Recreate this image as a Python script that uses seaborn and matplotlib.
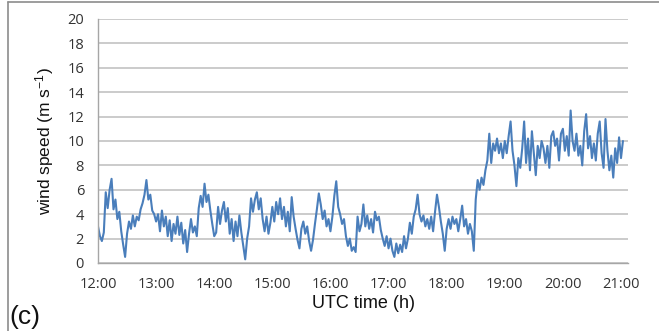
import numpy as np
import pandas as pd
import matplotlib
matplotlib.use("Agg")
import matplotlib.pyplot as plt
from matplotlib.lines import Line2D
import seaborn as sns

# ---- data: wind speed (m/s) read every 2 minutes, one list per UTC hour ----
speed_12h = [3.0, 2.2, 1.8, 2.5, 5.8, 4.5, 6.0, 6.9, 4.4, 5.2, 3.6, 4.2, 2.6, 1.5, 0.5,
             2.4, 3.4, 2.8, 3.9, 3.0, 3.8, 3.5, 4.4, 4.9, 5.6, 6.8, 5.2, 5.6, 4.3, 4.0]
speed_13h = [3.4, 4.0, 2.6, 4.3, 3.0, 3.8, 2.2, 3.5, 1.8, 3.2, 2.4, 3.8, 2.3, 3.3, 1.6,
             2.7, 0.9, 2.4, 3.6, 2.5, 3.0, 2.2, 4.5, 5.5, 4.6, 6.5, 5.0, 5.6, 4.3, 3.2]
speed_14h = [2.2, 2.5, 4.6, 3.2, 4.3, 5.0, 3.4, 4.5, 2.4, 3.6, 1.8, 3.4, 2.2, 3.9, 2.5,
             1.4, 0.3, 2.0, 3.0, 5.3, 4.2, 5.2, 5.8, 4.4, 5.3, 3.6, 2.6, 3.8, 2.4, 3.3]
speed_15h = [4.6, 3.4, 5.0, 4.0, 5.3, 3.6, 4.6, 3.0, 4.2, 2.6, 5.4, 3.8, 2.8, 1.9, 1.2,
             2.8, 3.4, 2.4, 3.0, 1.8, 1.0, 1.9, 3.2, 4.4, 5.7, 4.8, 3.6, 4.3, 3.0, 3.6]
speed_16h = [2.6, 3.8, 5.5, 6.7, 4.6, 4.0, 3.2, 3.6, 2.2, 1.4, 2.0, 1.0, 1.3, 0.9, 3.8,
             2.6, 3.2, 4.8, 3.0, 3.9, 2.8, 3.6, 2.5, 4.2, 3.5, 3.8, 2.7, 2.0, 1.4, 2.2]
speed_17h = [1.2, 2.0, 1.0, 0.5, 1.6, 0.8, 1.5, 0.9, 2.2, 1.2, 2.0, 3.3, 2.4, 3.8, 4.4,
             5.6, 4.0, 3.4, 3.9, 3.0, 3.6, 2.8, 3.8, 2.6, 4.2, 5.6, 4.6, 3.4, 2.4, 1.0]
speed_18h = [2.8, 3.6, 2.8, 3.8, 3.2, 3.6, 2.6, 3.6, 4.7, 3.0, 3.6, 2.4, 3.2, 2.6, 1.0,
             5.2, 6.8, 6.0, 7.0, 6.4, 7.6, 8.4, 10.6, 8.2, 9.8, 9.2, 10.2, 9.0, 9.8, 8.6]
speed_19h = [10.0, 9.0, 10.4, 11.6, 9.2, 8.0, 6.3, 8.6, 7.8, 9.4, 11.6, 8.2, 10.2, 7.6, 10.8,
             9.0, 7.2, 9.6, 8.6, 10.0, 9.4, 8.2, 9.6, 7.8, 10.4, 10.8, 9.6, 10.2, 8.4, 10.6]
speed_20h = [11.0, 9.2, 10.4, 8.8, 12.5, 10.0, 9.2, 10.6, 8.8, 9.6, 8.0, 10.8, 12.2, 9.4, 10.4,
             8.6, 9.8, 8.4, 10.6, 11.6, 9.0, 7.8, 11.8, 9.2, 7.6, 8.8, 7.0, 9.4, 8.2, 10.3,
             8.6, 10.0]

hour_labels = ["12:00", "13:00", "14:00", "15:00", "16:00",
               "17:00", "18:00", "19:00", "20:00", "21:00"]
hour_ticks = [12, 13, 14, 15, 16, 17, 18, 19, 20, 21]
y_ticks = [0, 2, 4, 6, 8, 10, 12, 14, 16, 18, 20]

speed = (speed_12h + speed_13h + speed_14h + speed_15h + speed_16h +
         speed_17h + speed_18h + speed_19h + speed_20h)
step_min = 2
time_h = 12 + np.arange(len(speed)) * step_min / 60.0
df = pd.DataFrame({"time": time_h, "speed": speed})

# ---- styling ----
sns.set_theme(style="white")
plt.rcParams["font.family"] = ["Open Sans", "DejaVu Sans"]
plt.rcParams["mathtext.default"] = "regular"

W, H = 659, 331
fig = plt.figure(figsize=(W / 100, H / 100), dpi=100)
ax = fig.add_axes([98 / W, 1 - 263 / H, (628 - 98) / W, (263 - 19) / H])

sns.lineplot(data=df, x="time", y="speed", ax=ax, color="#4a7ebb",
             linewidth=1.5, estimator=None)

ax.set_xlim(12, 21 + 7 / 58.1)
ax.set_ylim(0, 20)
ax.set_yticks(y_ticks)
ax.set_xticks(hour_ticks)
ax.set_xticklabels(hour_labels)

ax.yaxis.grid(True, color="#bdbdbd", linewidth=1.1)
ax.xaxis.grid(False)
ax.set_axisbelow(True)

for s in ["top", "right"]:
    ax.spines[s].set_visible(False)
for s in ["left", "bottom"]:
    ax.spines[s].set_color("#a6a6a6")
    ax.spines[s].set_linewidth(1.0)

ax.tick_params(axis="y", length=0, pad=10, labelsize=10.5, labelcolor="#333333")
ax.tick_params(axis="x", length=4, width=1.0, color="#a6a6a6", direction="out",
               pad=6, labelsize=10.5, labelcolor="#333333")

ax.set_xlabel("UTC time (h)", fontsize=13, family=["Liberation Sans", "DejaVu Sans"],
              color="#111111", labelpad=2)
ax.set_ylabel("wind speed (m s$^{-1}$)", fontsize=12.5,
              family=["Liberation Sans", "DejaVu Sans"], color="#111111", labelpad=8)

fig.text(9 / W, 2 / H, "(c)", fontsize=19, family=["Liberation Sans", "DejaVu Sans"],
         color="#111111", ha="left", va="bottom")

# partial chart border (top and left edges)
fig.add_artist(Line2D([8 / W, 1], [1 - 1.5 / H, 1 - 1.5 / H], transform=fig.transFigure,
                      color="#8c8c8c", linewidth=1.2))
fig.add_artist(Line2D([8 / W, 8 / W], [0, 1 - 1.5 / H], transform=fig.transFigure,
                      color="#8c8c8c", linewidth=1.2))

fig.savefig("out.png", dpi=100)
